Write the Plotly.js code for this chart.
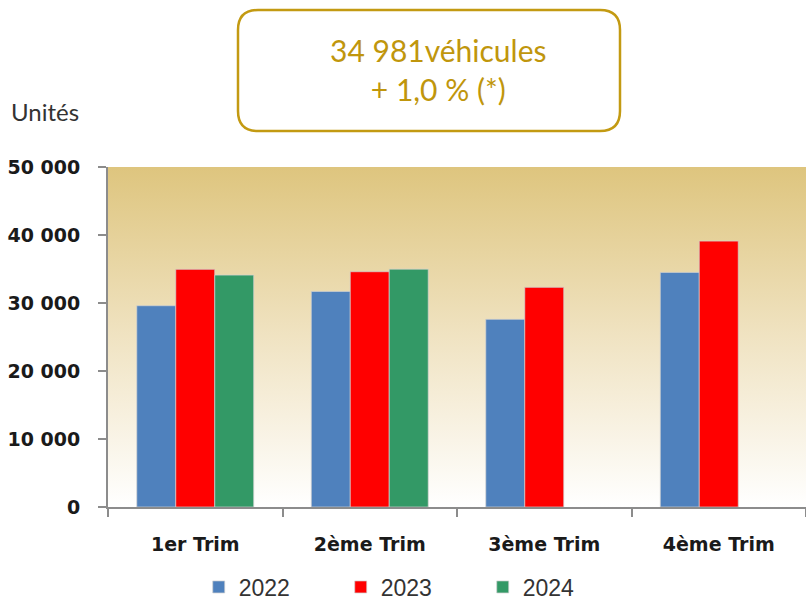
<!DOCTYPE html>
<html><head><meta charset="utf-8">
<script src="https://cdn.plot.ly/plotly-3.0.1.min.js"></script>
<style>html,body{margin:0;padding:0;background:#fff}#chart{width:806px;height:601px}</style>
</head><body><div id="chart"></div>
<script>
const categories = ['1er Trim', '2ème Trim', '3ème Trim', '4ème Trim'];
const seriesNames = ['2022', '2023', '2024'];
const values2022 = [29600, 31700, 27600, 34500];
const values2023 = [34950, 34600, 32300, 39100];
const values2024 = [34100, 34981, null, null];
const headline = '34 981véhicules<br>+ 1,0 % (*)';
const yLabel = 'Unités';
const colors = ['#4f81bd', '#ff0000', '#339966'];

const allValues = [values2022, values2023, values2024];
const traces = allValues.map((v, i) => ({
  type: 'bar', name: seriesNames[i], x: categories, y: v,
  marker: {color: colors[i], line: {color: 'rgba(210,210,210,0.7)', width: 1}},
  hoverinfo: 'x+y+name'
}));

const W = 698, H = 340;
function px(x){ return x / W; }
function py(y){ return y / H; }
const bx0 = px(238-108), bx1 = px(620-108), by0 = py(507-131), by1 = py(507-10);
const rx = px(20), ry = py(20);
const boxPath = `M ${bx0+rx},${by1} L ${bx1-rx},${by1} Q ${bx1},${by1} ${bx1},${by1-ry} L ${bx1},${by0+ry} Q ${bx1},${by0} ${bx1-rx},${by0} L ${bx0+rx},${by0} Q ${bx0},${by0} ${bx0},${by0+ry} L ${bx0},${by1-ry} Q ${bx0},${by1} ${bx0+rx},${by1} Z`;

const gradSvg = '<svg xmlns="http://www.w3.org/2000/svg" width="100" height="100" preserveAspectRatio="none"><defs><linearGradient id="g" x1="0" y1="0" x2="0" y2="1"><stop offset="0" stop-color="#dec57e"/><stop offset="0.5" stop-color="#f0e3c2"/><stop offset="1" stop-color="#ffffff"/></linearGradient></defs><rect width="100" height="100" fill="url(#g)"/></svg>';
const gradUri = 'data:image/svg+xml;base64,' + btoa(gradSvg);

const layout = {
  width: 806, height: 601,
  margin: {l: 108, r: 0, t: 167, b: 94, autoexpand: false},
  paper_bgcolor: '#ffffff', plot_bgcolor: 'rgba(0,0,0,0)',
  separators: ', ',
  barmode: 'group', bargap: 0.33, bargroupgap: 0,
  showlegend: true,
  legend: {orientation: 'h', x: 0.13, y: py(507-587), xanchor: 'left', yanchor: 'middle',
    font: {family: 'Liberation Sans', size: 23, color: '#333333'},
    entrywidth: 97, entrywidthmode: 'pixels', bgcolor: 'rgba(0,0,0,0)', borderwidth: 0},
  xaxis: {
    type: 'category', range: [-0.5, 3.5], showline: true, linecolor: '#8c8c8c', linewidth: 2,
    ticks: 'outside', tickson: 'boundaries', ticklen: 8, tickcolor: '#8c8c8c', tickwidth: 2,
    ticklabelstandoff: 19,
    tickfont: {family: 'DejaVu Sans', size: 19, weight: 'bold', color: '#1a1a1a'},
    showgrid: false, zeroline: false
  },
  yaxis: {
    range: [0, 50000], dtick: 10000, tickformat: ',d', showline: true, linecolor: '#8c8c8c', linewidth: 2,
    ticks: 'outside', ticklen: 8, tickcolor: '#8c8c8c', tickwidth: 2, ticklabelstandoff: 14,
    tickfont: {family: 'DejaVu Sans', size: 19, weight: 'bold', color: '#1a1a1a'},
    showgrid: false, zeroline: false
  },
  images: [{source: gradUri, xref: 'paper', yref: 'paper', x: 0, y: 1, sizex: 1, sizey: 1,
    sizing: 'stretch', layer: 'below', xanchor: 'left', yanchor: 'top'}],
  shapes: [{type: 'path', xref: 'paper', yref: 'paper', path: boxPath,
    line: {color: '#c39a12', width: 2.5}, fillcolor: 'rgba(0,0,0,0)'}],
  annotations: [
    {text: headline, xref: 'paper', yref: 'paper', x: px(438-108), y: py(507-70),
     xanchor: 'center', yanchor: 'middle', showarrow: false, align: 'center',
     font: {family: 'Lato', size: 30, color: '#c0960c'}},
    {text: yLabel, xref: 'paper', yref: 'paper', x: px(9-108), y: py(507-112),
     xanchor: 'left', yanchor: 'middle', showarrow: false,
     font: {family: 'Lato', size: 24, color: '#333333'}}
  ]
};

Plotly.newPlot('chart', traces, layout, {displayModeBar: false, staticPlot: true});
</script>
</body></html>
